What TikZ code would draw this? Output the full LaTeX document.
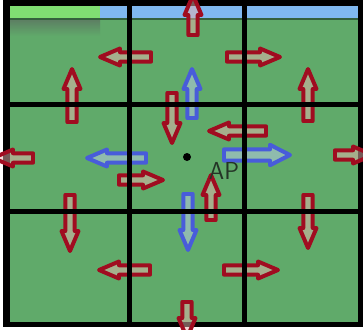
\documentclass[tikz,border=0pt]{standalone}
\usepackage{tikz}
\definecolor{cellgreen}{RGB}{96,170,106}
\definecolor{stripblue}{RGB}{128,184,240}
\definecolor{striplight}{RGB}{128,222,114}
\definecolor{stripdark}{RGB}{52,96,60}
\definecolor{flowred}{RGB}{160,12,32}
\definecolor{flowpink}{RGB}{235,180,175}
\definecolor{flowblue}{RGB}{72,92,218}
\definecolor{flowpale}{RGB}{190,205,240}
\definecolor{aptext}{RGB}{36,52,38}

% block arrow: [width factor]{style}{tail x}{tail y}{angle}{length}
\newcommand{\flowarrow}[6][1]{%
  \draw[#2, shift={(#3,#4)}, rotate=#5, yscale=#1]
    (0,-4.7) -- ({#6-20},-4.7) -- ({#6-20},-8.5) -- (#6,0)
    -- ({#6-20},8.5) -- ({#6-20},4.7) -- (0,4.7) -- cycle;}

\begin{document}
\begin{tikzpicture}[x=0.03cm, y=-0.03cm,
    gridline/.style={black, line width=3.6pt},
    redflow/.style={draw=flowred, fill=flowpink, fill opacity=0.5, line width=3.4pt, line join=round},
    blueflow/.style={draw=flowblue, fill=flowpale, fill opacity=0.5, line width=3.4pt, line join=round}]
    \useasboundingbox (0,0) rectangle (363,329);
    \clip (0,0) rectangle (363,329);

    % Frame and cells
    \fill[black] (3,0) rectangle (363,327);
    \fill[cellgreen] (10,6) rectangle (358,322);

    % Strip along the top
    \fill[stripblue] (10,6) rectangle (358,18);
    \fill[striplight] (10,6) rectangle (100,18);
    \fill[stripdark] (10,18) rectangle (358,20);
    \shade[top color=stripdark!80, bottom color=cellgreen] (10,20) rectangle (100,36);

    % Top row
    \flowarrow{redflow}{193}{35}{90}{40}
    \flowarrow{redflow}{151}{57}{180}{51}
    \flowarrow{redflow}{227}{57}{0}{53}
    \flowarrow{redflow}{72}{122}{90}{53}
    \flowarrow{blueflow}{192}{118}{90}{49}
    \flowarrow{redflow}{308}{121}{90}{52}
    \flowarrow{redflow}{172}{93}{-90}{50}

    % Middle row
    \flowarrow{redflow}{266}{131}{180}{57}
    \flowarrow{redflow}{33}{158}{180}{40}
    \flowarrow{blueflow}{146}{158}{180}{59}
    \flowarrow[1.2]{blueflow}{224}{155}{0}{66}
    \flowarrow{redflow}{335}{155}{0}{38}
    \flowarrow{redflow}{119}{180}{0}{44}
    \flowarrow{redflow}{211}{220}{90}{45}
    \flowarrow{blueflow}{188}{194}{-90}{56}
    \flowarrow{redflow}{70}{195}{-90}{56}
    \flowarrow{redflow}{308}{195}{-90}{53}

    % Bottom row
    \flowarrow{redflow}{150}{270}{180}{51}
    \flowarrow{redflow}{224}{270}{0}{54}
    \flowarrow{redflow}{187}{302}{-90}{36}

    % Grid lines over the arrows
    \draw[gridline] (129.5,0) -- (129.5,327);
    \draw[gridline] (244.5,0) -- (244.5,327);
    \draw[gridline] (3,104.5) -- (363,104.5);
    \draw[gridline] (3,211.5) -- (363,211.5);

    % Access point
    \node[circle, fill=black, inner sep=0pt, minimum size=8*0.03cm] (apdot) at (187,157) {};
    \node[aptext, font=\sffamily\fontsize{21}{21}\selectfont] (ap) at (224,171) {AP};
\end{tikzpicture}
\end{document}
